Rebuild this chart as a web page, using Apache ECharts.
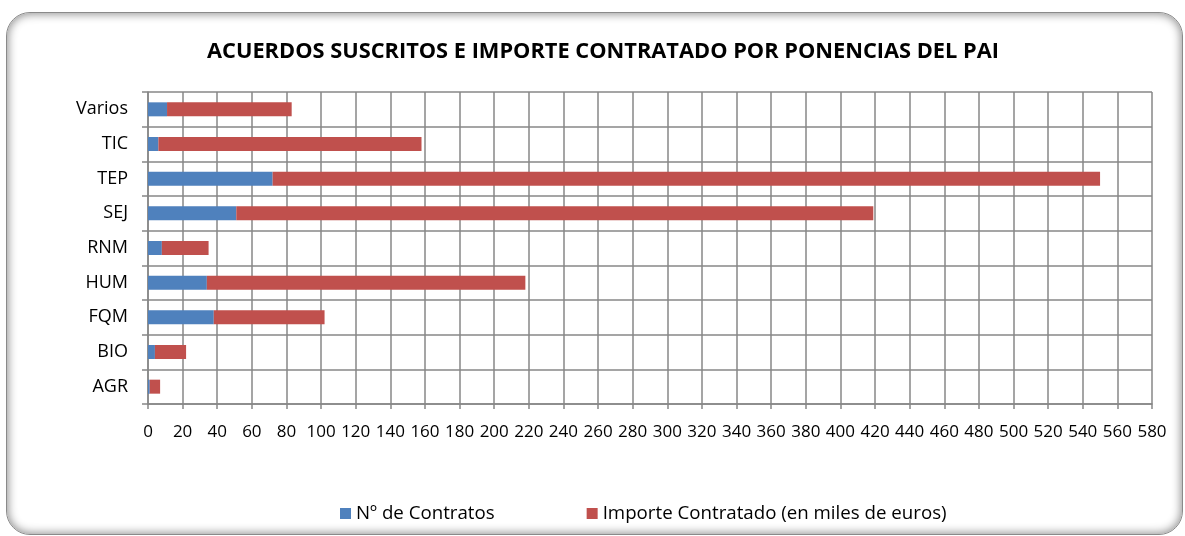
<!DOCTYPE html>
<html>
<head>
<meta charset="utf-8">
<script src="https://cdn.jsdelivr.net/npm/echarts@6/dist/echarts.min.js"></script>
<style>
    body { margin: 0; background: #fff; }
    #wrap { position: relative; width: 1185px; height: 536px; }
    #chart { width: 1185px; height: 536px; }
    /* marco redondeado con sombra interior, como el grafico de Excel */
    #frame {
        position: absolute; left: 6px; top: 12px; width: 1175px; height: 521px;
        border: 1px solid #8a8a8a; border-radius: 24px;
        box-shadow: inset 0 0 10px 1px rgba(0,0,0,0.45);
        pointer-events: none;
    }
</style>
</head>
<body>
<div id="wrap">
    <div id="chart"></div>
    <div id="frame"></div>
</div>
<script>
// ponencias, de abajo arriba (el eje de categorias empieza abajo)
var ponencias = ['AGR', 'BIO', 'FQM', 'HUM', 'RNM', 'SEJ', 'TEP', 'TIC', 'Varios'];
// Nº de contratos
var numContratos = [1, 4, 38, 34, 8, 51, 72, 6, 11];
// importe contratado (miles de euros), apilado sobre el numero de contratos
var importeContratado = [6, 18, 64, 184, 27, 368, 478, 152, 72];
var xTicks = { min: 0, max: 580, interval: 20 };

var fuente = 'Open Sans';
var gris = '#878787';

var myChart = echarts.init(document.getElementById('chart'));
var option = {
    animation: false,
    title: {
        text: 'ACUERDOS SUSCRITOS E IMPORTE CONTRATADO POR PONENCIAS DEL PAI',
        left: 202,
        top: 36,
        textStyle: { fontFamily: fuente, fontWeight: 'bold', fontSize: 21.8, color: '#000' }
    },
    legend: {
        left: 335,
        top: 499,
        itemWidth: 11,
        itemHeight: 11,
        itemGap: 92,
        icon: 'rect',
        textStyle: { fontFamily: fuente, fontSize: 18.7, color: '#000' },
        data: ['Nº de Contratos', 'Importe Contratado (en miles de euros)']
    },
    grid: { left: 148, right: 33, top: 92, bottom: 132 },
    xAxis: {
        type: 'value',
        min: xTicks.min,
        max: xTicks.max,
        interval: xTicks.interval,
        axisLine: { show: true, lineStyle: { color: gris, width: 1.5 } },
        axisTick: { show: true, length: 5, lineStyle: { color: gris, width: 1.5 } },
        axisLabel: { color: '#000', fontFamily: fuente, fontSize: 17, margin: 20 },
        splitLine: { show: true, lineStyle: { color: gris, width: 1.5 } }
    },
    yAxis: {
        type: 'category',
        data: ponencias,
        axisLine: { show: true, lineStyle: { color: gris, width: 1.5 } },
        axisTick: { show: true, length: 6, lineStyle: { color: gris, width: 1.5 } },
        axisLabel: { color: '#000', fontFamily: fuente, fontSize: 18, margin: 20 },
        splitLine: { show: true, lineStyle: { color: gris, width: 1.5 } }
    },
    series: [
        {
            name: 'Nº de Contratos',
            type: 'bar',
            stack: 'total',
            barWidth: 14,
            itemStyle: { color: '#4F81BD' },
            data: numContratos
        },
        {
            name: 'Importe Contratado (en miles de euros)',
            type: 'bar',
            stack: 'total',
            barWidth: 14,
            itemStyle: { color: '#C0504D' },
            data: importeContratado
        }
    ]
};
myChart.setOption(option);
</script>
</body>
</html>
